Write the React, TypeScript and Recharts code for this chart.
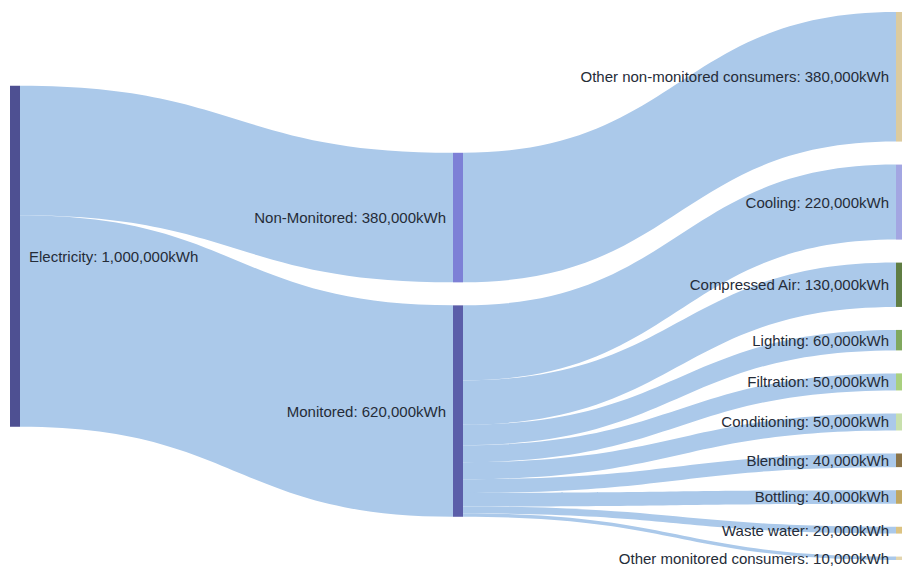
import { Sankey } from 'recharts';

// energy flow, kWh
const sourceName = 'Electricity';
const splitNames = ['Non-Monitored', 'Monitored'];
const splitValues = [380000, 620000];
const nonMonitoredConsumers = ['Other non-monitored consumers'];
const nonMonitoredValues = [380000];
const monitoredConsumers = [
  'Cooling',
  'Compressed Air',
  'Lighting',
  'Filtration',
  'Conditioning',
  'Blending',
  'Bottling',
  'Waste water',
  'Other monitored consumers',
];
const monitoredValues = [220000, 130000, 60000, 50000, 50000, 40000, 40000, 20000, 10000];

const nodeColors = [
  '#4e5092',
  '#7d80d6',
  '#5b5ea9',
  '#dccb9f',
  '#a3a6e2',
  '#5f7d43',
  '#80a85e',
  '#a9d07f',
  '#c8e0ad',
  '#8a7347',
  '#c0a762',
  '#dcc382',
  '#e3d5ae',
];

const nodes = [
  { name: sourceName },
  ...splitNames.map((name) => ({ name })),
  ...nonMonitoredConsumers.map((name) => ({ name })),
  ...monitoredConsumers.map((name) => ({ name })),
];

const links = [
  ...splitValues.map((value, i) => ({ source: 0, target: 1 + i, value })),
  ...nonMonitoredValues.map((value, i) => ({ source: 1, target: 3 + i, value })),
  ...monitoredValues.map((value, i) => ({
    source: 2,
    target: 3 + nonMonitoredConsumers.length + i,
    value,
  })),
];

const fmt = (v: number) => v.toLocaleString('en-US') + 'kWh';

const SankeyNode = (props: any) => {
  const { x, y, width, height, index, payload } = props;
  const first = payload.depth === 0;
  return (
    <g>
      <rect x={x} y={y} width={width} height={Math.max(height, 1)} fill={nodeColors[index]} />
      <text
        x={first ? x + width + 9 : x - 7}
        y={y + height / 2}
        textAnchor={first ? 'start' : 'end'}
        dominantBaseline="central"
        fontFamily="'Liberation Sans', Arial, sans-serif"
        fontSize={15}
        fill="#252c38"
      >
        {payload.name}: {fmt(payload.value)}
      </text>
    </g>
  );
};

const SankeyLink = (props: any) => {
  const { sourceX, targetX, sourceY, targetY, sourceControlX, targetControlX, linkWidth } = props;
  const h = linkWidth / 2;
  const d =
    `M${sourceX},${sourceY - h} ` +
    `C${sourceControlX},${sourceY - h} ${targetControlX},${targetY - h} ${targetX},${targetY - h} ` +
    `L${targetX},${targetY + h} ` +
    `C${targetControlX},${targetY + h} ${sourceControlX},${sourceY + h} ${sourceX},${sourceY + h} Z`;
  return <path d={d} fill="#abc9ea" stroke="none" />;
};

export default function App() {
  return (
    <div
      style={{
        position: 'absolute',
        left: 0,
        top: 0,
        width: 902,
        height: 570,
        overflow: 'hidden',
        background: '#fff',
      }}
    >
      <Sankey
        width={906}
        height={570}
        data={{ nodes, links }}
        nodeWidth={10}
        nodePadding={23}
        margin={{ top: 12, right: 0, bottom: 10, left: 10 }}
        sort={false}
        node={<SankeyNode />}
        link={<SankeyLink />}
      />
    </div>
  );
}
